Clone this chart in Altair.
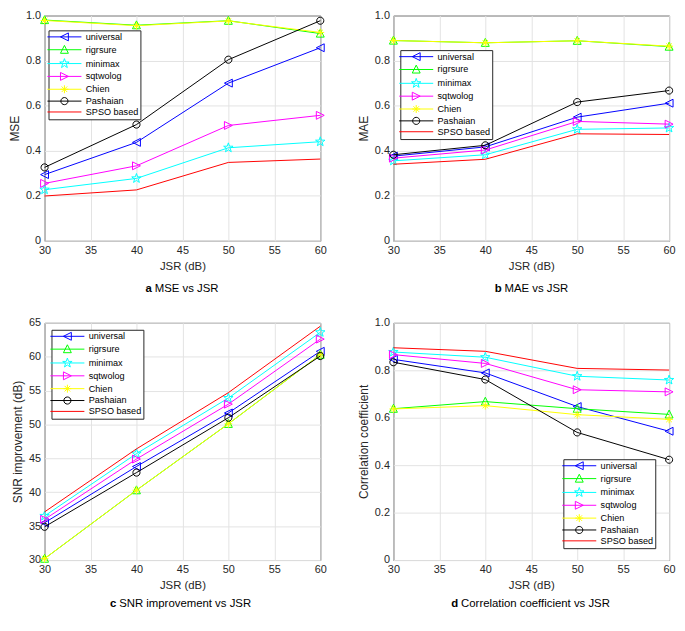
import altair as alt
import pandas as pd
import numpy as np

FONT = "Liberation Sans"

JSR = [30, 40, 50, 60]
SERIES = ["universal", "rigrsure", "minimax", "sqtwolog", "Chien", "Pashaian", "SPSO based"]
COLORS = ["#0000ff", "#00ff00", "#00ffff", "#ff00ff", "#ffff00", "#000000", "#ff0000"]

# (a) MSE
MSE_universal = [0.294, 0.437, 0.700, 0.857]
MSE_rigrsure = [0.980, 0.957, 0.977, 0.920]
MSE_minimax = [0.227, 0.277, 0.413, 0.440]
MSE_sqtwolog = [0.255, 0.333, 0.512, 0.557]
MSE_chien = [0.978, 0.955, 0.976, 0.925]
MSE_pashaian = [0.326, 0.516, 0.804, 0.977]
MSE_spso = [0.199, 0.226, 0.348, 0.363]

# (b) MAE
MAE_universal = [0.376, 0.417, 0.549, 0.611]
MAE_rigrsure = [0.889, 0.879, 0.888, 0.862]
MAE_minimax = [0.355, 0.382, 0.495, 0.501]
MAE_sqtwolog = [0.367, 0.403, 0.530, 0.518]
MAE_chien = [0.889, 0.879, 0.888, 0.864]
MAE_pashaian = [0.382, 0.424, 0.616, 0.667]
MAE_spso = [0.340, 0.362, 0.475, 0.472]

# (c) SNR improvement
SNR_universal = [35.5, 43.8, 51.7, 60.8]
SNR_rigrsure = [30.2, 40.3, 50.1, 60.3]
SNR_minimax = [36.5, 45.7, 53.9, 63.6]
SNR_sqtwolog = [36.0, 44.9, 53.0, 62.6]
SNR_chien = [30.2, 40.3, 50.1, 60.3]
SNR_pashaian = [34.9, 42.9, 51.0, 60.1]
SNR_spso = [37.1, 46.4, 54.7, 64.5]

# (d) Correlation coefficient
CC_universal = [0.846, 0.789, 0.647, 0.543]
CC_rigrsure = [0.638, 0.668, 0.638, 0.614]
CC_minimax = [0.877, 0.855, 0.775, 0.759]
CC_sqtwolog = [0.866, 0.829, 0.718, 0.709]
CC_chien = [0.637, 0.651, 0.613, 0.593]
CC_pashaian = [0.834, 0.761, 0.538, 0.423]
CC_spso = [0.895, 0.880, 0.808, 0.801]

X_TICKS = [30, 35, 40, 45, 50, 55, 60]
LETTERS = ["a", "b", "c", "d"]
CAPTIONS = ["MSE vs JSR", "MAE vs JSR", "SNR improvement vs JSR", "Correlation coefficient vs JSR"]
Y_TITLES = ["MSE", "MAE", "SNR improvement (dB)", "Correlation coefficient"]

PANELS = {
    "a": [MSE_universal, MSE_rigrsure, MSE_minimax, MSE_sqtwolog, MSE_chien, MSE_pashaian, MSE_spso],
    "b": [MAE_universal, MAE_rigrsure, MAE_minimax, MAE_sqtwolog, MAE_chien, MAE_pashaian, MAE_spso],
    "c": [SNR_universal, SNR_rigrsure, SNR_minimax, SNR_sqtwolog, SNR_chien, SNR_pashaian, SNR_spso],
    "d": [CC_universal, CC_rigrsure, CC_minimax, CC_sqtwolog, CC_chien, CC_pashaian, CC_spso],
}

rows = []
for key, arrs in PANELS.items():
    for s, vals in zip(SERIES, arrs):
        for xv, yv in zip(JSR, vals):
            rows.append({"panel": key, "series": s, "jsr": xv, "value": yv})
df = pd.DataFrame(rows)


# ---- marker shapes (unit box -1..1) ----
def star_path(r_out=1.25, r_in=0.5):
    pts = []
    for i in range(10):
        ang = -np.pi / 2 + i * np.pi / 5
        r = r_out if i % 2 == 0 else r_in
        pts.append((r * np.cos(ang), r * np.sin(ang)))
    return "M" + "L".join(f"{x:.3f},{y:.3f}" for x, y in pts) + "Z"


TRI_LEFT = "M-1,0L1,-1L1,1Z"
TRI_UP = "M0,-1.1L1,0.9L-1,0.9Z"
TRI_RIGHT = "M1,0L-1,-1L-1,1Z"
CIRCLE = "M0.9,0A0.9,0.9,0,1,1,-0.9,0A0.9,0.9,0,1,1,0.9,0Z"
ASTER = "M-1,0L1,0M0,-1L0,1M-0.7,-0.7L0.7,0.7M-0.7,0.7L0.7,-0.7"
STAR = star_path()
MARKERS = [TRI_LEFT, TRI_UP, STAR, TRI_RIGHT, ASTER, CIRCLE, None]
LINE_SEG = "M-4.3,0L4.3,0"
LEGEND_PATHS = [LINE_SEG + (m if m else "") for m in MARKERS]


def panel(idx, ydomain, yvalues, label_expr, width, height, lx, ly, cap_off, cap_dy):
    key = LETTERS[idx]
    base = alt.Chart(df[df.panel == key])
    color_scale = alt.Scale(domain=SERIES, range=COLORS)
    x = alt.X("jsr:Q", scale=alt.Scale(domain=[30, 60], nice=False, zero=False),
              axis=alt.Axis(title="JSR (dB)", values=X_TICKS, format="d"))
    y = alt.Y("value:Q", scale=alt.Scale(domain=ydomain, nice=False, zero=False),
              axis=alt.Axis(title=Y_TITLES[idx], values=yvalues, labelExpr=label_expr))
    legend = alt.Legend(title=None, orient="none", legendX=lx, legendY=ly, direction="vertical",
                        symbolSize=64, symbolStrokeWidth=1, symbolOffset=9.5, labelOffset=17,
                        labelFont=FONT, labelFontSize=9.2, labelColor="black", padding=2,
                        rowPadding=0, strokeColor="#262626", fillColor="white", cornerRadius=0,
                        labelLimit=200, symbolFillColor="transparent", symbolOpacity=1)
    color = alt.Color("series:N", scale=color_scale, legend=legend)
    layers = []
    for s, m in zip(SERIES, MARKERS):
        sub = base.transform_filter(alt.datum.series == s)
        layers.append(sub.mark_line(strokeWidth=1).encode(x=x, y=y, color=color))
        if m:
            layers.append(sub.mark_point(shape=m, size=64, filled=False, strokeWidth=1, opacity=1)
                          .encode(x=x, y=y, color=color))
    dummy = base.transform_filter("false").mark_point(filled=False, strokeWidth=1, opacity=1, size=64).encode(
        color=color,
        shape=alt.Shape("series:N", scale=alt.Scale(domain=SERIES, range=LEGEND_PATHS), legend=legend),
    )
    layers.append(dummy)
    cap = alt.Chart(pd.DataFrame({"letter": [LETTERS[idx]], "caption": [CAPTIONS[idx]]}))
    cx = width / 2 + cap_off
    layers.append(cap.mark_text(align="right", baseline="middle", font=FONT, fontSize=11.5,
                                fontWeight="bold", color="black")
                  .encode(x=alt.value(cx - 3), y=alt.value(height + cap_dy), text="letter:N"))
    layers.append(cap.mark_text(align="left", baseline="middle", font=FONT, fontSize=11.5,
                                color="black")
                  .encode(x=alt.value(cx), y=alt.value(height + cap_dy), text="caption:N"))
    return alt.layer(*layers).properties(width=width, height=height)


frac_expr = "datum.value == 0 ? '0' : format(datum.value, '.1f')"
W1, W2 = 279, 279
H1, H2 = 228, 240

pa = panel(0, [0, 1], [0, 0.2, 0.4, 0.6, 0.8, 1.0], frac_expr, W1, H1, 4, 15, -28, 49)
pb = panel(1, [0, 1], [0, 0.2, 0.4, 0.6, 0.8, 1.0], frac_expr, W2, H1, 7, 35, -27, 49)
pc = panel(2, [30, 65], [30, 35, 40, 45, 50, 55, 60, 65], "format(datum.value, 'd')", W1, H2, 7, 7, -64, 45)
pd_ = panel(3, [0, 1], [0, 0.2, 0.4, 0.6, 0.8, 1.0], frac_expr, W2, H2, 172, 138, -71, 45)

chart = alt.concat(pa, pb, pc, pd_, columns=2, spacing={"row": 83, "column": 74}, bounds="flush").resolve_scale(
    color="independent", shape="independent"
).resolve_legend(
    color="independent", shape="independent"
).properties(
    padding={"top": -3, "left": 0, "right": 0, "bottom": 0}
).configure_view(stroke="#262626", strokeWidth=1).configure_axis(
    grid=True, gridColor="#e3e3e3", gridWidth=1, domain=False, ticks=False, tickSize=0,
    labelFont=FONT, labelFontSize=11, labelColor="#262626", labelPadding=4, labelFlush=False,
    titleFont=FONT, titleFontWeight="normal", titleColor="#262626",
).configure_axisX(titlePadding=5, titleFontSize=11.5).configure_axisY(titlePadding=4, titleFontSize=12)

chart.save("out.html", embed_options={"renderer": "svg", "actions": False})
